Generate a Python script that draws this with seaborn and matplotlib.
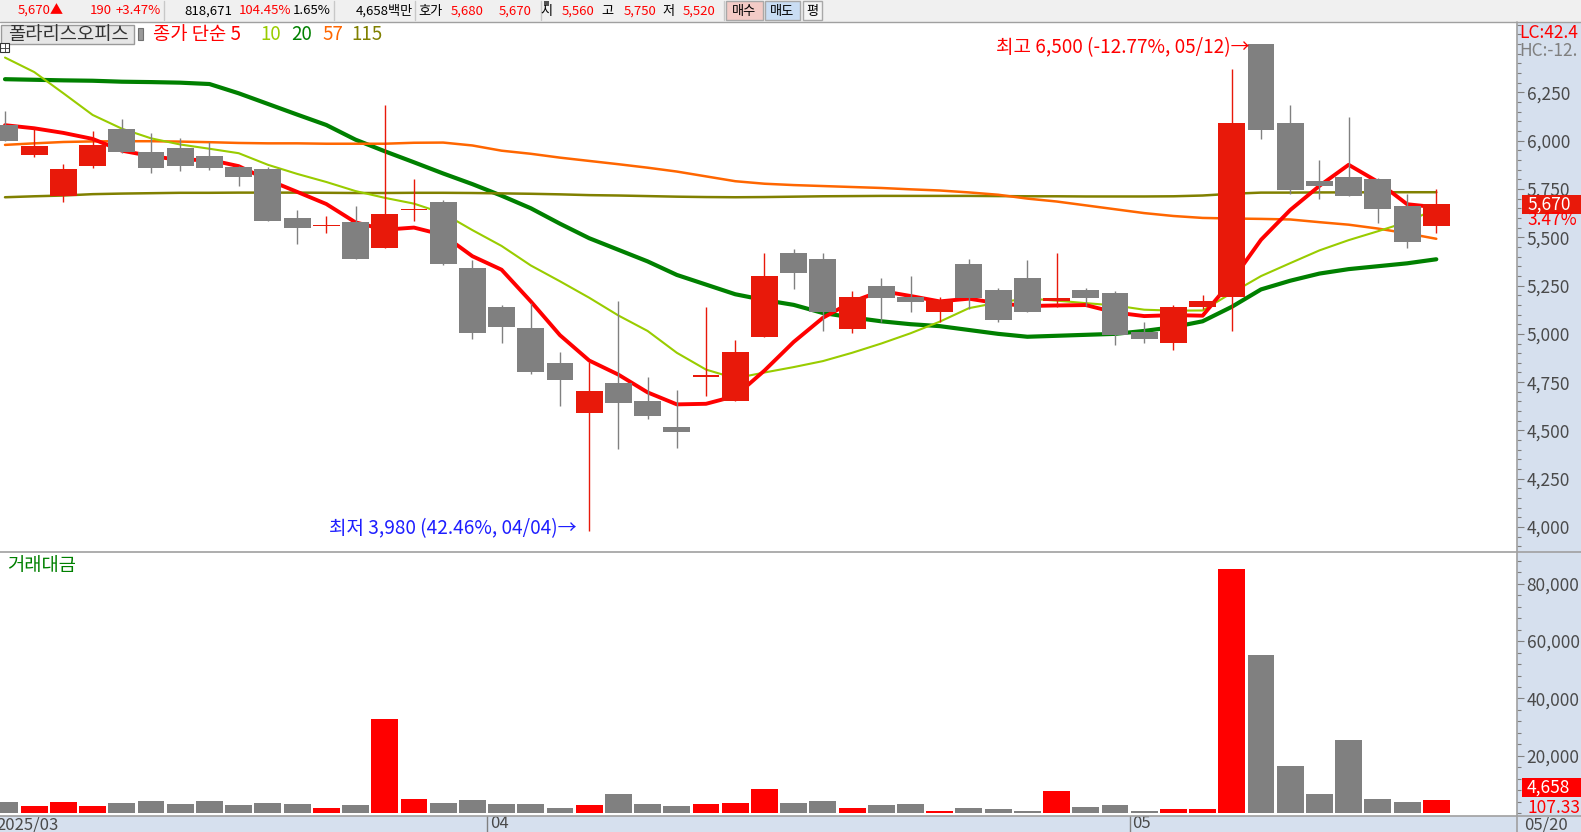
import matplotlib
matplotlib.use('Agg')
import matplotlib.pyplot as plt
import matplotlib.transforms as mtransforms
from matplotlib.patches import Rectangle
from matplotlib.ticker import FixedLocator, FuncFormatter
import seaborn as sns
import numpy as np
import pandas as pd

# trading days on screen (2025)
mar_days = [7, 10, 11, 12, 13, 14, 17, 18, 19, 20, 21, 24, 25, 26, 27, 28, 31]
apr_days = [1, 2, 3, 4, 7, 8, 9, 10, 11, 14, 15, 16, 17, 18, 21, 22, 23, 24, 25, 28, 29, 30]
may_days = [2, 7, 8, 9, 12, 13, 14, 15, 16, 19, 20]

open_ = [6080, 5925, 5715, 5870, 6060, 5940, 5960, 5920, 5865, 5855,
         5600, 5557, 5580, 5446, 5640, 5683, 5340, 5140, 5030, 4850,
         4592, 4746, 4653, 4518, 4778, 4654, 4986, 5419, 5388, 5027,
         5248, 5190, 5115, 5362, 5227, 5289, 5170, 5227, 5212, 5011,
         4955, 5138, 5189, 6500, 6092, 5790, 5812, 5802, 5662, 5560]
high = [6155, 6065, 5880, 6050, 6110, 6040, 6015, 5995, 5870, 5865,
        5640, 5610, 5662, 6185, 5800, 5693, 5383, 5150, 5158, 4906,
        4855, 5170, 4777, 4710, 5140, 4968, 5420, 5440, 5419, 5222,
        5289, 5300, 5191, 5388, 5238, 5383, 5420, 5238, 5220, 5062,
        5150, 5201, 6370, 6500, 6185, 5900, 6123, 5805, 5726, 5750]
low = [6000, 5915, 5680, 5860, 5935, 5830, 5845, 5848, 5767, 5585,
       5467, 5520, 5385, 5446, 5585, 5358, 4975, 4955, 4792, 4628,
       3980, 4405, 4561, 4411, 4680, 4654, 4986, 5234, 5017, 5006,
       5063, 5115, 5063, 5127, 5063, 5115, 5140, 5146, 4944, 4955,
       4918, 5130, 5017, 6010, 5726, 5700, 5715, 5576, 5446, 5520]
close = [6000, 5970, 5855, 5975, 5940, 5860, 5870, 5860, 5810, 5585,
         5550, 5557, 5385, 5620, 5640, 5360, 5005, 5037, 4800, 4763,
         4704, 4640, 4577, 4490, 4778, 4906, 5300, 5317, 5115, 5191,
         5188, 5167, 5177, 5187, 5073, 5115, 5185, 5187, 4996, 4975,
         5140, 5170, 6092, 6057, 5746, 5767, 5715, 5648, 5477, 5670]

# 거래대금 (백만)
amount = [4000, 2600, 4000, 2600, 3650, 4350, 3300, 4350, 2950, 3650,
          3300, 1900, 2950, 32900, 5050, 3650, 4700, 3300, 3300, 1900,
          2950, 6750, 3300, 2600, 3300, 3650, 8650, 3650, 4350, 1900,
          2950, 3300, 1000, 1900, 1550, 1000, 7800, 2250, 2950, 1000,
          1550, 1550, 85050, 55100, 16500, 6750, 25550, 5050, 4000, 4658]

ma5 = [6080, 6064, 6040, 6009, 5948, 5920, 5900, 5901, 5868, 5797,
       5735, 5672, 5577, 5539, 5550, 5512, 5402, 5332, 5168, 4993,
       4862, 4789, 4697, 4635, 4638, 4678, 4810, 4958, 5083, 5166,
       5222, 5196, 5168, 5182, 5158, 5144, 5147, 5149, 5111, 5092,
       5097, 5094, 5275, 5487, 5641, 5766, 5875, 5787, 5671, 5655]
ma10 = [6430, 6355, 6245, 6133, 6062, 6012, 5980, 5958, 5935, 5875,
        5828, 5786, 5739, 5704, 5674, 5624, 5537, 5455, 5354, 5272,
        5187, 5095, 5015, 4902, 4815, 4770, 4800, 4828, 4859, 4902,
        4950, 5003, 5063, 5133, 5162, 5183, 5172, 5159, 5147, 5125,
        5120, 5121, 5212, 5299, 5366, 5432, 5485, 5531, 5579, 5648]
ma20 = [6318, 6315, 6312, 6310, 6305, 6303, 6300, 6293, 6245, 6190,
        6135, 6081, 6005, 5945, 5888, 5830, 5775, 5715, 5650, 5570,
        5495, 5435, 5375, 5305, 5255, 5205, 5175, 5150, 5108, 5085,
        5065, 5050, 5040, 5020, 5000, 4985, 4990, 4995, 5000, 5015,
        5035, 5065, 5140, 5230, 5275, 5312, 5335, 5350, 5365, 5386]
ma57 = [5978, 5986, 5993, 5996, 5997, 5997, 5995, 5992, 5988, 5986,
        5986, 5984, 5984, 5984, 5989, 5990, 5975, 5948, 5932, 5912,
        5895, 5878, 5860, 5840, 5815, 5790, 5777, 5770, 5765, 5760,
        5755, 5748, 5742, 5732, 5720, 5700, 5685, 5665, 5645, 5625,
        5610, 5600, 5597, 5595, 5592, 5578, 5565, 5545, 5520, 5492]
ma115 = [5707, 5712, 5716, 5723, 5726, 5728, 5730, 5730, 5731, 5731,
         5731, 5730, 5729, 5729, 5730, 5730, 5729, 5727, 5725, 5722,
         5718, 5716, 5713, 5710, 5708, 5707, 5708, 5710, 5712, 5713,
         5714, 5714, 5714, 5714, 5713, 5712, 5712, 5711, 5711, 5711,
         5712, 5716, 5725, 5731, 5731, 5732, 5732, 5733, 5733, 5733]

month_labels = ['2025/03', '04', '05']

UP = '#E8190A'
DOWN = '#808080'
PANEL = '#D6E0EE'
EDGE = '#A0A0A0'
TXT = '#4A4A4A'

sns.set_style('white')
plt.rcParams['font.family'] = ['Noto Sans CJK KR', 'DejaVu Sans']

W, H = 1581, 832
fig = plt.figure(figsize=(W / 100, H / 100), dpi=100)


def rect(x0, y0, x1, y1):
    return [x0 / W, 1 - y1 / H, (x1 - x0) / W, (y1 - y0) / H]


TOP, MID, BOT, RIGHT = 22, 552, 816, 1517

# background panels (pixel coordinates)
bg = fig.add_axes([0, 0, 1, 1], zorder=-10)
bg.set_xlim(0, W)
bg.set_ylim(H, 0)
bg.axis('off')
bg.add_patch(Rectangle((0, 0), W, TOP, fc='#F0F0F0', ec='none'))
bg.add_patch(Rectangle((RIGHT, TOP), W - RIGHT, H - TOP, fc=PANEL, ec='none'))
bg.add_patch(Rectangle((0, BOT), W, H - BOT, fc=PANEL, ec='none'))

# overlay for header texts
fg = fig.add_axes([0, 0, 1, 1], zorder=10)
fg.set_xlim(0, W)
fg.set_ylim(H, 0)
fg.axis('off')
fg.patch.set_alpha(0)

fg.plot([0, W], [TOP - 0.5, TOP - 0.5], color=EDGE, lw=1)
fg.plot([0, W], [MID, MID], color=EDGE, lw=1.2)
fg.plot([0, W], [BOT, BOT], color=EDGE, lw=1.2)
fg.plot([RIGHT, RIGHT], [TOP, H], color=EDGE, lw=1.2)
for sx in [164, 334, 415, 541, 724]:
    fg.plot([sx, sx], [1, TOP - 2], color='#C8C8C8', lw=1)

RED = '#FF0000'
bar_items = [
    (64, '5,670▲', RED), (112, '190', RED), (161, '+3.47%', RED),
    (232, '818,671', 'black'), (291, '104.45%', RED), (331, '1.65%', 'black'),
    (413, '4,658백만', 'black'), (443, '호가', 'black'), (484, '5,680', RED),
    (532, '5,670', RED), (553, '시', 'black'), (594, '5,560', RED),
    (613, '고', 'black'), (656, '5,750', RED), (675, '저', 'black'),
    (715, '5,520', RED),
]
for bx, s, c in bar_items:
    fg.text(bx, 11, s, ha='right', va='center', color=c, fontsize=9.5)
fg.add_patch(Rectangle((544, 1), 5, 5, fc='#505050', ec='none'))
for x0, x1, fc, s in [(726, 763, '#F3CBC6', '매수'), (765, 800, '#C9DDF3', '매도'),
                      (803, 822, '#F4F4F4', '평')]:
    fg.add_patch(Rectangle((x0, 1), x1 - x0, 19, fc=fc, ec='#A8A8A8', lw=1))
    fg.text((x0 + x1) / 2, 11, s, ha='center', va='center', color='black', fontsize=9.5)

# legend row
fg.add_patch(Rectangle((1, 25), 133, 19, fc='#E6E6E6', ec='#9A9A9A', lw=1))
fg.text(68, 34.5, '폴라리스오피스', ha='center', va='center', color='#333333', fontsize=13.5)
fg.add_patch(Rectangle((138, 28), 5, 12, fc='#9A9A9A', ec='#707070', lw=0.8))
for lx, s, c in [(153, '종가 단순 5', '#FF0000'), (260, '10', '#99CC00'),
                 (291, '20', '#008000'), (322, '57', '#FF6600'), (351, '115', '#808000')]:
    fg.text(lx, 34.5, s, ha='left', va='center', color=c, fontsize=13.5)
fg.add_patch(Rectangle((0, 43), 9, 9, fc='white', ec='#333333', lw=0.8))
fg.plot([0, 9], [47.5, 47.5], color='#333333', lw=0.6)
fg.plot([4.5, 4.5], [43, 52], color='#333333', lw=0.6)
fg.text(7, 565, '거래대금', ha='left', va='center', color='#008000', fontsize=13.5)
fg.text(1519, 33, 'LC:42.4', ha='left', va='center', color=RED, fontsize=12.5)
fg.text(1519, 51, 'HC:-12.', ha='left', va='center', color='#808080', fontsize=12.5)

n = len(close)
bars = np.arange(n)
o = np.array(open_)
c = np.array(close)
up = c >= o
colors = np.where(up, UP, DOWN)

XL = (-5 / 29.21, (RIGHT - 5) / 29.21)

# price panel
ax_p = fig.add_axes(rect(0, TOP, RIGHT, MID))
ax_p.patch.set_alpha(0)
for ma, col, lw in [(ma20, '#008000', 3.0), (ma115, '#808000', 1.8), (ma57, '#FF6600', 1.8),
                    (ma10, '#99CC00', 1.5), (ma5, '#FF0000', 2.8)]:
    sns.lineplot(x=bars, y=ma, color=col, linewidth=lw, ax=ax_p, zorder=3)
ax_p.vlines(bars, low, high, colors=colors, lw=1.0, zorder=4)
ax_p.bar(bars, np.maximum(np.abs(c - o), 7), bottom=np.minimum(o, c), width=0.92,
         color=colors, linewidth=0, zorder=5)
ax_p.set_xlim(*XL)
ax_p.set_ylim(3871, 6614)

ax_p.text(43 - 0.4, 6480, '최고 6,500 (-12.77%, 05/12)→', ha='right', va='center',
          color=RED, fontsize=13.7, zorder=6)
ax_p.text(20 - 0.42, 3994, '최저 3,980 (42.46%, 04/04)→', ha='right', va='center',
          color='#1E1EFF', fontsize=13.7, zorder=6)

# last price tag
yt = ax_p.get_yaxis_transform()
ax_p.add_patch(Rectangle((1.0033, close[-1] - 49), 0.05, 98, transform=yt,
                         fc=UP, ec='none', clip_on=False, zorder=8))
ax_p.text(1.0066, close[-1], '5,670', transform=yt, ha='left', va='center',
          color='white', fontsize=12.5, zorder=9, clip_on=False)
ax_p.text(1.0066, close[-1] - 83, '3.47%', transform=yt, ha='left', va='center',
          color=RED, fontsize=12.5, zorder=9, clip_on=False)

fmt = FuncFormatter(lambda v, p: f'{v:,.0f}')
ax_p.yaxis.tick_right()
ax_p.set_yticks(np.arange(4000, 6251, 250))
ax_p.yaxis.set_minor_locator(FixedLocator(np.arange(3900, 6601, 50)))
ax_p.yaxis.set_major_formatter(fmt)
ax_p.tick_params(axis='y', which='major', length=5, width=0.8, color='#808080',
                 labelsize=12.5, labelcolor=TXT, pad=2)
ax_p.tick_params(axis='y', which='minor', length=3, width=0.8, color='#808080')
ax_p.set_xticks([])
ax_p.set_xlabel('')
ax_p.set_ylabel('')
for s in ax_p.spines.values():
    s.set_visible(False)

# volume panel
ax_v = fig.add_axes(rect(0, MID, RIGHT, BOT))
ax_v.patch.set_alpha(0)
vol = pd.DataFrame({'bar': bars, 'amount': amount,
                    'dir': np.where(up, 'up', 'down')})
sns.barplot(data=vol, x='bar', y='amount', hue='dir',
            palette={'up': '#FF0000', 'down': '#808080'}, native_scale=True,
            width=0.92, dodge=False, errorbar=None, legend=False, saturation=1,
            linewidth=0, ax=ax_v)
ax_v.set_xlim(*XL)
ax_v.set_ylim(-870, 90957)
ax_v.yaxis.tick_right()
ax_v.set_yticks(np.arange(20000, 80001, 20000))
ax_v.yaxis.set_minor_locator(FixedLocator(np.arange(0, 88001, 4000)))
ax_v.yaxis.set_major_formatter(fmt)
ax_v.tick_params(axis='y', which='major', length=5, width=0.8, color='#808080',
                 labelsize=12.5, labelcolor=TXT, pad=2)
ax_v.tick_params(axis='y', which='minor', length=3, width=0.8, color='#808080')
ax_v.set_xticks([])
ax_v.set_xlabel('')
ax_v.set_ylabel('')
for s in ax_v.spines.values():
    s.set_visible(False)

yv = ax_v.get_yaxis_transform()
ax_v.add_patch(Rectangle((1.0033, amount[-1] + 1080), 0.05, 6600, transform=yv,
                         fc='#FF0000', ec='none', clip_on=False, zorder=8))
ax_v.text(1.0066, amount[-1] + 4380, '4,658', transform=yv, ha='left', va='center',
          color='white', fontsize=12.5, zorder=9, clip_on=False)
ax_v.text(1.0066, amount[-1] - 2650, '107.33', transform=yv, ha='left', va='center',
          color=RED, fontsize=12.5, zorder=9, clip_on=False)

# month boundaries on the date band
band = (H - BOT) / (BOT - MID)
bx = mtransforms.blended_transform_factory(ax_v.transData, ax_v.transAxes)
starts = [0, len(mar_days), len(mar_days) + len(apr_days)]
for k, (st, lab) in enumerate(zip(starts, month_labels)):
    if k == 0:
        fg.text(-4, 824.5, lab, ha='left', va='center', color=TXT, fontsize=12)
        continue
    ax_v.plot([st - 0.5, st - 0.5], [0, -band], transform=bx, color='#808080',
              lw=1, clip_on=False)
    ax_v.annotate(lab, xy=(st - 0.5, -band / 2), xycoords=bx, xytext=(3, 0),
                  textcoords='offset pixels', ha='left', va='center', color=TXT,
                  fontsize=12, annotation_clip=False)
fg.text(1524, 824.5, f'05/{may_days[-1]:02d}', ha='left', va='center', color=TXT, fontsize=12)

fig.savefig('out.png', dpi=100)
